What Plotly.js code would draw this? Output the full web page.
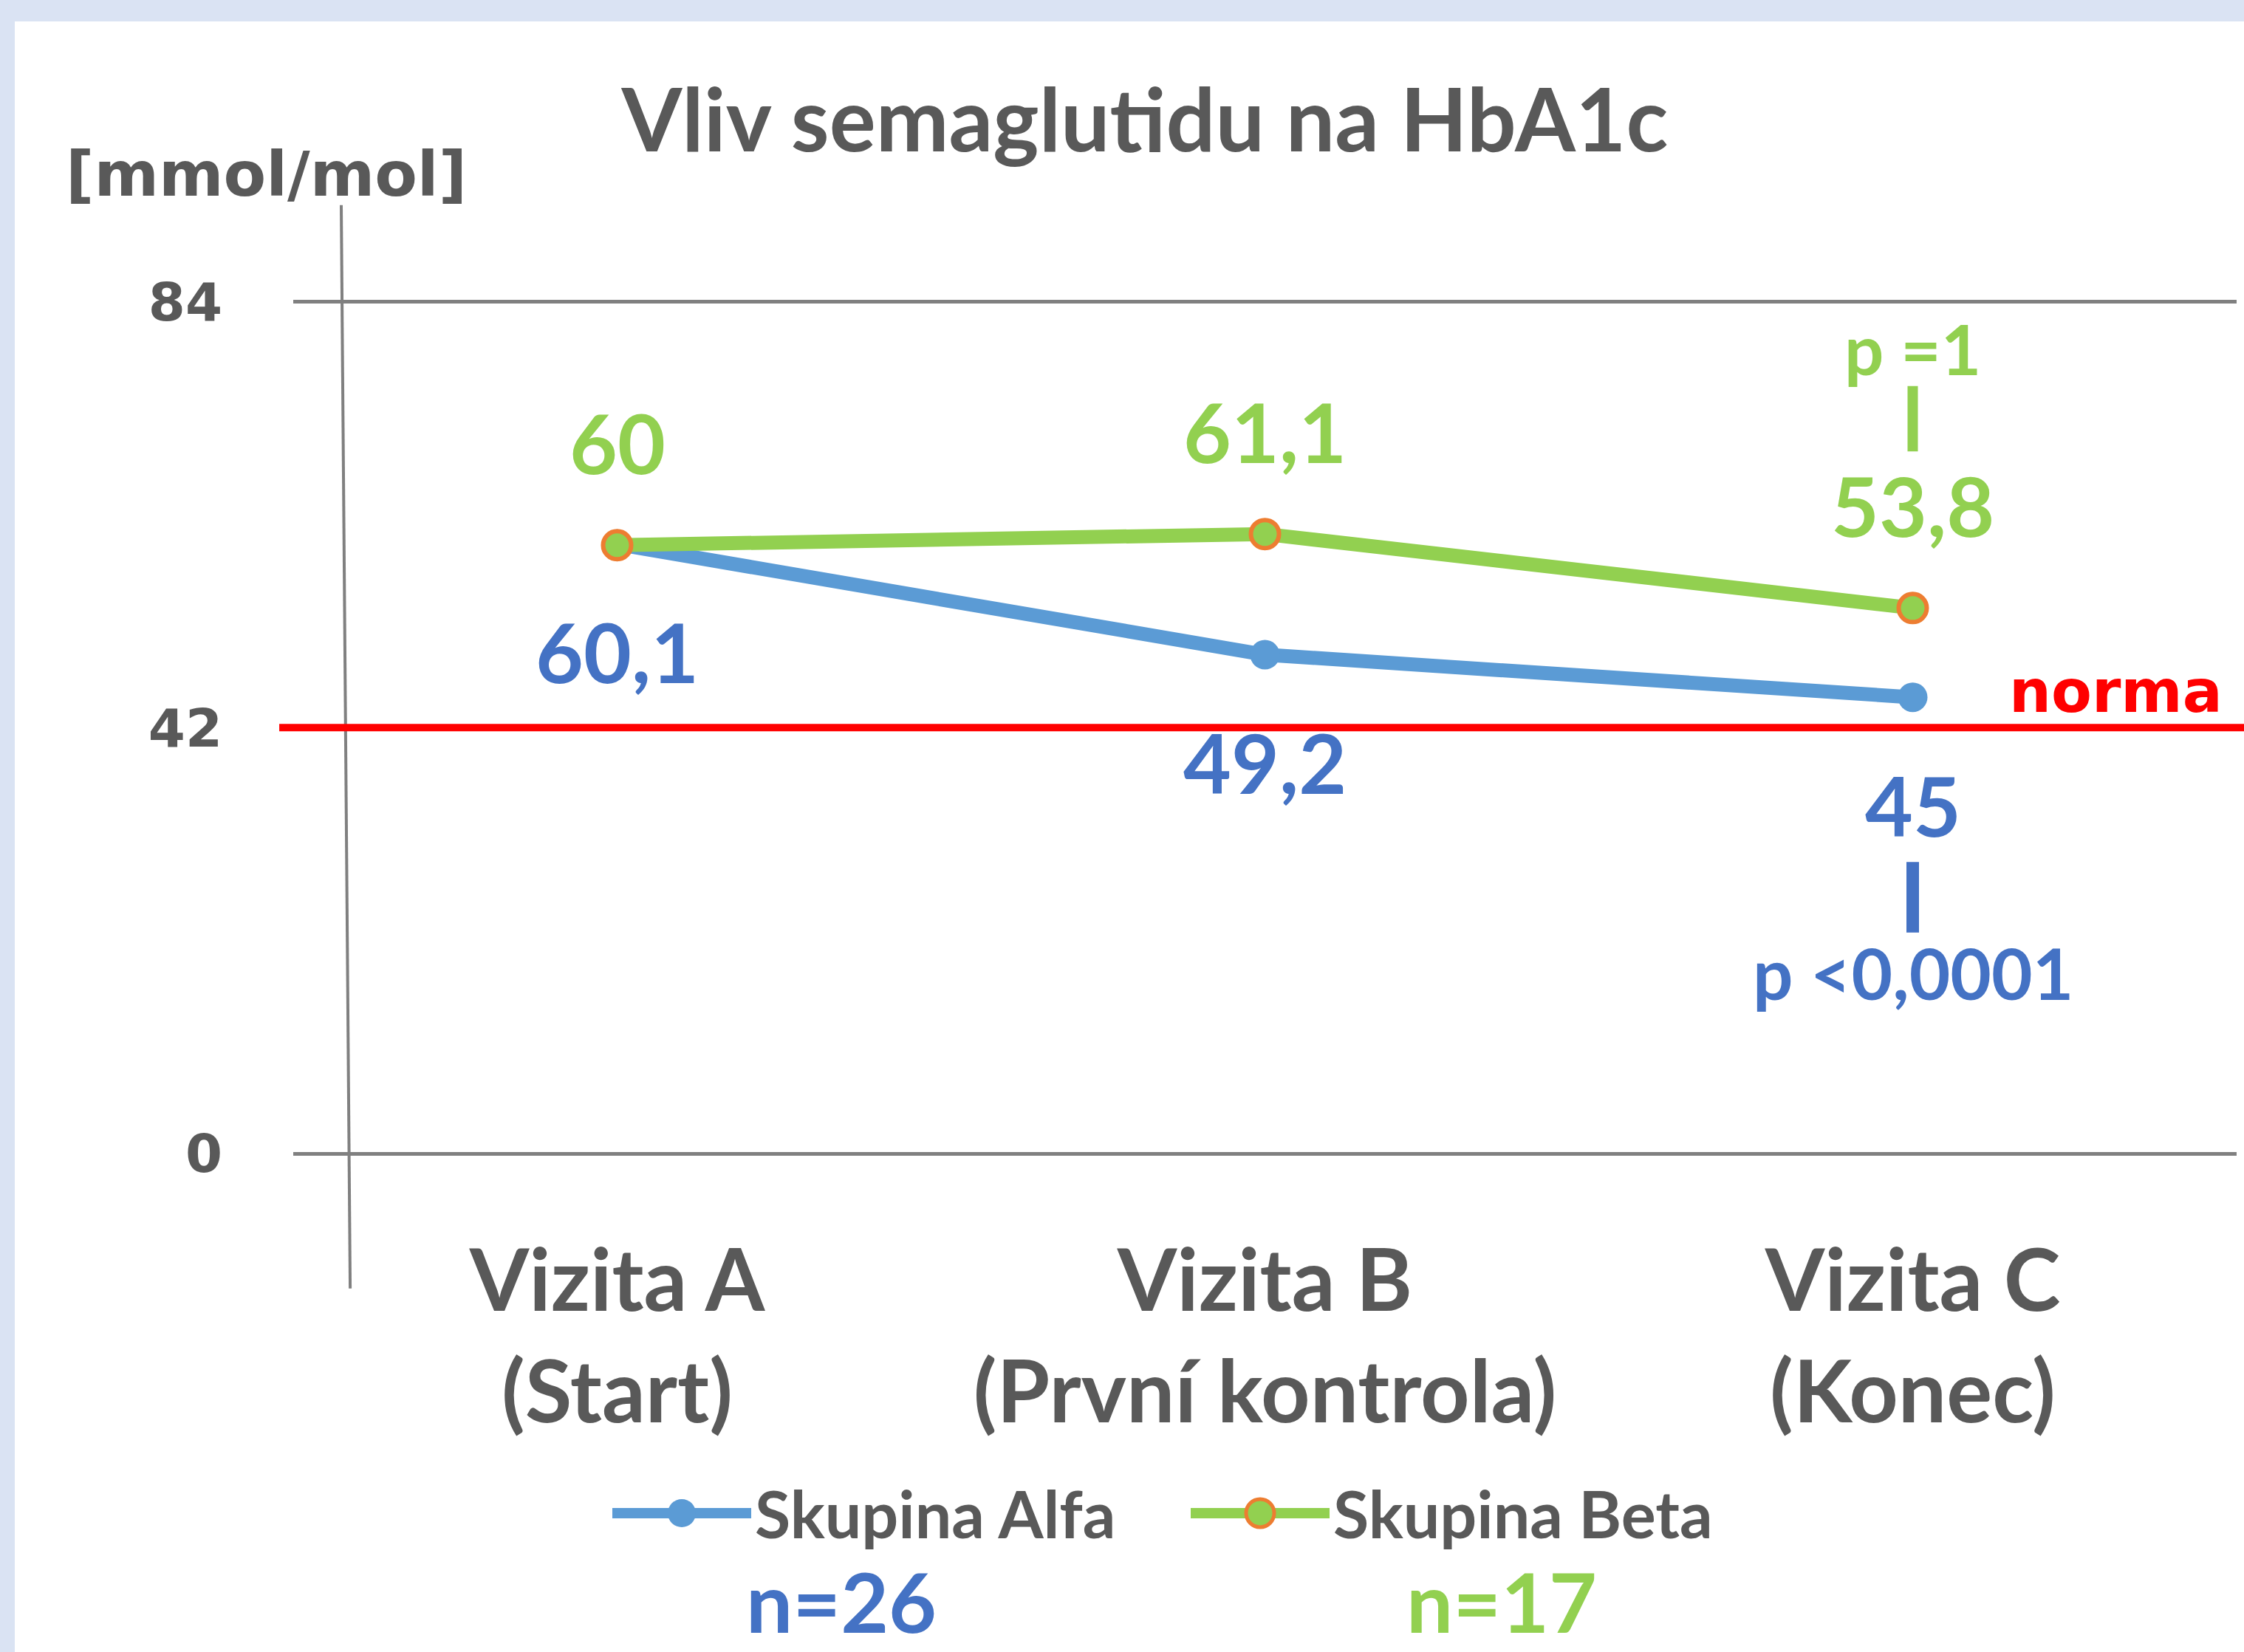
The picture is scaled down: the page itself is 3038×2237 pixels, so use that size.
<!DOCTYPE html>
<html>
<head>
<meta charset="utf-8">
<script src="https://cdn.plot.ly/plotly-3.0.1.min.js"></script>
<style>
  html, body { margin: 0; padding: 0; background: #dae3f3; }
  #chart { width: 3038px; height: 2237px; }
</style>
</head>
<body>
<div id="chart"></div>
<script>
// ---- data ----
var categories = ['Vizita A<br>(Start)', 'Vizita B<br>(První kontrola)', 'Vizita C<br>(Konec)'];
var alfaName = 'Skupina Alfa';
var betaName = 'Skupina Beta';
var alfaValues = [60.1, 49.2, 45];
var betaValues = [60, 61.1, 53.8];
var alfaLabels = ['60,1', '49,2', '45'];
var betaLabels = ['60', '61,1', '53,8'];
var alfaPValue = 'p <0,0001';
var betaPValue = 'p =1';
var groupN = ['n=26', 'n=17'];
var normValue = 42;
var normLabel = 'norma';
var yTickVals = [0, 42, 84];
var yTickText = ['0', '42', '84'];
var yRange = [0, 84.2];
var chartTitle = 'Vliv semaglutidu na HbA1c';
var unitLabel = '[mmol/mol]';

// ---- styles ----
var GRAY = '#595959';
var BLUE_LINE = '#5b9bd5';
var BLUE_TEXT = '#4472c4';
var GREEN = '#92d050';
var ORANGE = '#ed7d31';
var RED = '#ff0000';
var calib = 'Lato, "Open Sans", sans-serif';
var verd = '"DejaVu Sans", Verdana, sans-serif';

var traces = [
  {
    type: 'scatter', mode: 'lines+markers', name: alfaName,
    x: categories, y: alfaValues,
    line: {color: BLUE_LINE, width: 19},
    marker: {color: BLUE_LINE, size: 40, symbol: 'circle', line: {width: 0}},
    cliponaxis: false
  },
  {
    type: 'scatter', mode: 'lines+markers', name: betaName,
    x: categories, y: betaValues,
    line: {color: GREEN, width: 19},
    marker: {color: GREEN, size: 38, symbol: 'circle', line: {color: ORANGE, width: 6}},
    cliponaxis: false
  }
];

var ann = [];
var last = categories.length - 1;
categories.forEach(function(c, i) {
  ann.push({x: c, y: betaValues[i], xref: 'x', yref: 'y', text: betaLabels[i], showarrow: false,
    yshift: 140, yanchor: 'middle', font: {family: calib, size: 112, color: GREEN, weight: 700}});
  ann.push({x: c, y: alfaValues[i], xref: 'x', yref: 'y', text: alfaLabels[i], showarrow: false,
    yshift: -145, yanchor: 'middle', font: {family: calib, size: 112, color: BLUE_TEXT, weight: 700}});
});
// p-values at last visit
ann.push({x: categories[last], y: betaValues[last], xref: 'x', yref: 'y', text: betaPValue, showarrow: false,
  yshift: 352, yanchor: 'middle', font: {family: calib, size: 94, color: GREEN, weight: 700}});
ann.push({x: categories[last], y: alfaValues[last], xref: 'x', yref: 'y', text: alfaPValue, showarrow: false,
  yshift: -372, yanchor: 'middle', font: {family: calib, size: 96, color: BLUE_TEXT, weight: 700}});
// connector bars
ann.push({x: categories[last], y: betaValues[last], xref: 'x', yref: 'y', text: '', showarrow: true,
  ax: 0, ay: -302, standoff: 212, arrowhead: 0, arrowwidth: 14, arrowcolor: GREEN});
ann.push({x: categories[last], y: alfaValues[last], xref: 'x', yref: 'y', text: '', showarrow: true,
  ax: 0, ay: 320, standoff: 223, arrowhead: 0, arrowwidth: 17, arrowcolor: BLUE_TEXT});
// norma label
ann.push({x: 0.9935, y: normValue, xref: 'paper', yref: 'y', text: normLabel, showarrow: false,
  xanchor: 'right', yanchor: 'bottom', font: {family: verd, size: 80, color: RED, weight: 700}});
// unit label
ann.push({x: -0.0137, y: 1.147, xref: 'paper', yref: 'paper', text: unitLabel, showarrow: false,
  xanchor: 'center', yanchor: 'middle', font: {family: verd, size: 84, color: GRAY, weight: 700}});
// group sizes
ann.push({x: 0.282, y: -0.524, xref: 'paper', yref: 'paper', text: groupN[0], showarrow: false,
  xanchor: 'center', yanchor: 'middle', font: {family: calib, size: 112, color: BLUE_TEXT, weight: 700}});
ann.push({x: 0.622, y: -0.524, xref: 'paper', yref: 'paper', text: groupN[1], showarrow: false,
  xanchor: 'center', yanchor: 'middle', font: {family: calib, size: 112, color: GREEN, weight: 700}});

var shapes = [
  // white card over light-blue frame
  {type: 'rect', xref: 'paper', yref: 'paper', x0: -0.1433, x1: 1.2, y0: -1, y1: 1.3261,
   fillcolor: '#ffffff', line: {width: 0}, layer: 'below'},
  // vertical axis line
  {type: 'line', xref: 'paper', yref: 'paper', x0: 0.0247, x1: 0.0293, y0: 1.111, y1: -0.158,
   line: {color: '#808080', width: 4}, layer: 'above'},
  // norm line
  {type: 'line', xref: 'paper', yref: 'y', x0: -0.0072, x1: 1.01, y0: normValue, y1: normValue,
   line: {color: RED, width: 10}, layer: 'above'}
];

var layout = {
  width: 3038, height: 2237,
  paper_bgcolor: '#dae3f3', plot_bgcolor: '#ffffff',
  margin: {l: 397, r: 10, t: 406, b: 675, pad: 0},
  title: {text: chartTitle, xref: 'container', yref: 'container', x: 0.5102, y: 0.927,
    xanchor: 'center', yanchor: 'middle', font: {family: calib, size: 118, color: GRAY, weight: 700}},
  xaxis: {type: 'category', range: [-0.5, 2.5], showgrid: false, zeroline: false, showline: false,
    ticks: '', ticklabelstandoff: 96, tickfont: {family: calib, size: 116, color: GRAY, weight: 700}},
  yaxis: {range: yRange, tickvals: yTickVals, ticktext: yTickText, showgrid: true, gridcolor: '#808080',
    gridwidth: 5, zeroline: true, zerolinecolor: '#808080', zerolinewidth: 5, showline: false, ticks: '',
    ticklabelstandoff: 95, tickfont: {family: verd, size: 72, color: GRAY, weight: 700}},
  showlegend: true,
  legend: {orientation: 'h', x: 0.1623, y: -0.4215, xanchor: 'left', yanchor: 'middle',
    bgcolor: 'rgba(0,0,0,0)', borderwidth: 0, itemwidth: 188, entrywidthmode: 'pixels', entrywidth: 580,
    font: {family: calib, size: 88, color: GRAY, weight: 700}, itemclick: false, itemdoubleclick: false},
  annotations: ann,
  shapes: shapes,
  hovermode: false
};

Plotly.newPlot('chart', traces, layout, {staticPlot: true, displayModeBar: false}).then(function(gd) {
  gd.querySelectorAll('.legend .legendlines path').forEach(function(p) { p.style.strokeWidth = '14px'; });
  gd.querySelectorAll('.legend .legendpoints path.scatterpts').forEach(function(p) {
    p.setAttribute('d', 'M19,0A19,19 0 1,1 0,-19A19,19 0 0,1 19,0Z');
  });
});
</script>
</body>
</html>
